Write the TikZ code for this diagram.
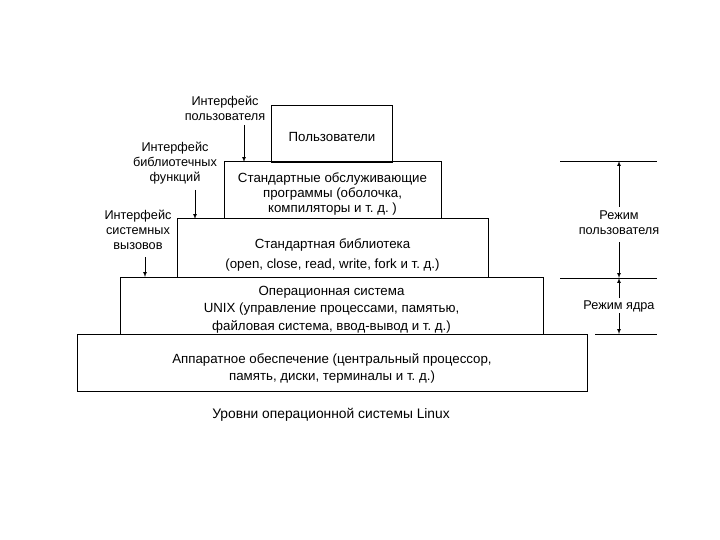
\documentclass[tikz,border=0pt]{standalone}
\usepackage{fontspec}
\setmainfont{Liberation Sans}
\frenchspacing
\begin{document}
\begin{tikzpicture}[x=1pt,y=-1pt,
  level/.style={draw,line width=1pt,inner sep=0pt},
  boxtxt/.style={align=center,inner sep=0pt,yshift=-6pt,
    font=\fontsize{13.3}{17.5}\selectfont},
  lbl/.style={align=center,font=\fontsize{12.7}{15}\selectfont},
  ptr/.style={-latex,line width=0.7pt}]
\useasboundingbox (0,0) rectangle (720,540);
% levels of the system
\node[level,minimum width=121pt,minimum height=57pt,
  label={[boxtxt,yshift=4pt]center:Пользователи}] (users) at (332,134.5) {};
\node[level,minimum width=217pt,minimum height=57pt,
  label={[boxtxt,font=\fontsize{13.3}{15}\selectfont,yshift=2pt]center:{Стандартные обслуживающие\\программы (оболочка,\\компиляторы и т. д. )}}] (utils) at (332.5,190.5) {};
\node[level,minimum width=311pt,minimum height=58pt,
  label={[boxtxt,font=\fontsize{13.3}{19.5}\selectfont,yshift=-1pt]center:{Стандартная библиотека\\(open, close, read, write, fork и т. д.)}}] (stdlib) at (332.5,248) {};
\node[level,minimum width=423pt,minimum height=57pt,
  label={[boxtxt,yshift=2pt]center:{Операционная система\\UNIX (управление процессами, памятью,\\файловая система, ввод-вывод и т. д.)}}] (kernel) at (331.5,305.5) {};
\node[level,minimum width=510pt,minimum height=57pt,
  label={[boxtxt]center:{Аппаратное обеспечение (центральный процессор,\\память, диски, терминалы и т. д.)}}] (hw) at (332,362.5) {};
\node[font=\fontsize{13.8}{15}\selectfont] (caption) at (331,415) {Уровни операционной системы Linux};
% interfaces
\node[lbl] (ifuser) at (225,108) {Интерфейс\\пользователя};
\node[lbl] (iflib) at (175,163) {Интерфейс\\библиотечных\\функций};
\node[lbl] (ifsys) at (138,230) {Интерфейс\\системных\\вызовов};
\coordinate (ifuserA) at (244,125);
\coordinate (ifuserB) at (244,162);
\coordinate (iflibA) at (195,190);
\coordinate (iflibB) at (195,219);
\coordinate (ifsysA) at (145,257);
\coordinate (ifsysB) at (145,277);
\draw[ptr] (ifuserA) -- (ifuserB);
\draw[ptr] (iflibA) -- (iflibB);
\draw[ptr] (ifsysA) -- (ifsysB);
% modes
\draw[line width=0.8pt] (560,161) -- (657,161);
\draw[line width=0.8pt] (560,278) -- (657,278);
\draw[line width=0.8pt] (595,334) -- (657,334);
\node[lbl] (umode) at (619,223) {Режим\\пользователя};
\node[lbl] (kmode) at (619,306) {Режим ядра};
\coordinate (utop) at (619,161);
\coordinate (umid) at (619,278);
\coordinate (kbot) at (619,334);
\draw[ptr] (umode.north |- 0,207) -- (utop);
\draw[ptr] (umode.south |- 0,242) -- (umid);
\draw[ptr] (kmode.north |- 0,298) -- (umid);
\draw[ptr] (kmode.south |- 0,313) -- (kbot);
\end{tikzpicture}
\end{document}
